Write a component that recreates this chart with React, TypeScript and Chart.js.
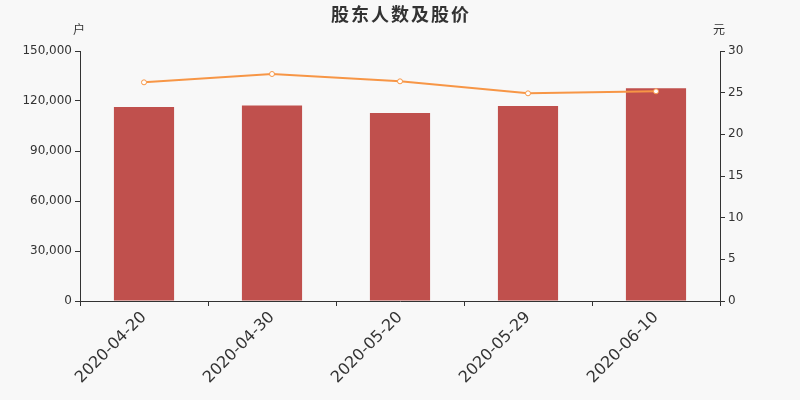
import React, { useEffect, useRef } from "react";
import { Chart, registerables } from "chart.js";

Chart.register(...registerables);

const categories = ["2020-04-20", "2020-04-30", "2020-05-20", "2020-05-29", "2020-06-10"];
const holders = [116400, 117300, 112800, 117000, 127600];
const prices = [26.24, 27.24, 26.36, 24.92, 25.16];
const leftTicks = [0, 30000, 60000, 90000, 120000, 150000];
const rightTicks = [0, 5, 10, 15, 20, 25, 30];

const FONT = "'DejaVu Sans', 'Noto Sans CJK SC', sans-serif";

const overlay = {
  id: "overlayText",
  afterDraw(chart: any) {
    const ctx = chart.ctx;
    const area = chart.chartArea;
    ctx.save();
    ctx.fillStyle = "#333333";
    ctx.font = `bold 18px 'Noto Sans CJK SC', sans-serif`;
    try {
      (ctx as any).letterSpacing = "2px";
    } catch (e) {}
    ctx.textAlign = "center";
    ctx.textBaseline = "middle";
    ctx.fillText("股东人数及股价", 401, 14);
    try {
      (ctx as any).letterSpacing = "0px";
    } catch (e) {}
    ctx.font = `12px 'Noto Sans CJK SC', sans-serif`;
    ctx.fillText("户", area.left - 1, 29);
    ctx.fillText("元", area.right - 1, 29);
    ctx.restore();
  },
};

export default function App() {
  const ref = useRef<HTMLCanvasElement>(null);
  useEffect(() => {
    if (!ref.current) return;
    const chart = new Chart(ref.current, {
      type: "bar",
      data: {
        labels: categories,
        datasets: [
          {
            type: "line",
            label: "股价",
            data: prices,
            yAxisID: "y1",
            borderColor: "#f79646",
            backgroundColor: "#ffffff",
            borderWidth: 2,
            pointRadius: 2.5,
            pointBorderWidth: 1,
            pointBackgroundColor: "#ffffff",
            pointBorderColor: "#f79646",
            tension: 0,
            order: 0,
          } as any,
          {
            type: "bar",
            label: "股东人数",
            data: holders,
            yAxisID: "y",
            backgroundColor: "#c0504d",
            barPercentage: 0.47,
            categoryPercentage: 1,
            order: 1,
          },
        ],
      },
      options: {
        responsive: false,
        animation: false,
        layout: { padding: { top: 51, left: 0, right: 0, bottom: 0 } },
        plugins: {
          legend: { display: false },
          tooltip: { enabled: false },
          title: { display: false },
        },
        scales: {
          x: {
            offset: true,
            grid: {
              display: true,
              offset: true,
              drawOnChartArea: false,
              drawTicks: true,
              tickLength: 5,
              tickColor: "#333333",
            },
            border: { display: true, color: "#333333", width: 1 },
            ticks: {
              color: "#333333",
              font: { family: FONT, size: 16 },
              maxRotation: 45,
              minRotation: 45,
              padding: 2,
              autoSkip: false,
            },
            afterFit(scale: any) {
              scale.height = 99;
            },
          },
          y: {
            position: "left",
            min: 0,
            max: 150000,
            afterBuildTicks(scale: any) {
              scale.ticks = leftTicks.map((v) => ({ value: v }));
            },
            grid: {
              display: true,
              drawOnChartArea: false,
              drawTicks: true,
              tickLength: 5,
              tickColor: "#333333",
            },
            border: { display: true, color: "#333333", width: 1 },
            ticks: {
              color: "#333333",
              font: { family: FONT, size: 12 },
              padding: 3,
              callback: (v: any) => Number(v).toLocaleString("en-US"),
            },
            afterFit(scale: any) {
              scale.width = 80;
            },
          },
          y1: {
            position: "right",
            min: 0,
            max: 30,
            afterBuildTicks(scale: any) {
              scale.ticks = rightTicks.map((v) => ({ value: v }));
            },
            grid: {
              display: true,
              drawOnChartArea: false,
              drawTicks: true,
              tickLength: 5,
              tickColor: "#333333",
            },
            border: { display: true, color: "#333333", width: 1 },
            ticks: {
              color: "#333333",
              font: { family: FONT, size: 12 },
              padding: 3,
            },
            afterFit(scale: any) {
              scale.width = 80;
            },
          },
        },
      },
      plugins: [overlay],
    });
    return () => chart.destroy();
  }, []);

  return (
    <div style={{ position: "fixed", left: 0, top: 0, width: 800, height: 400, background: "#f8f8f8" }}>
      <canvas ref={ref} width={800} height={400} style={{ width: 800, height: 400, display: "block" }} />
    </div>
  );
}
